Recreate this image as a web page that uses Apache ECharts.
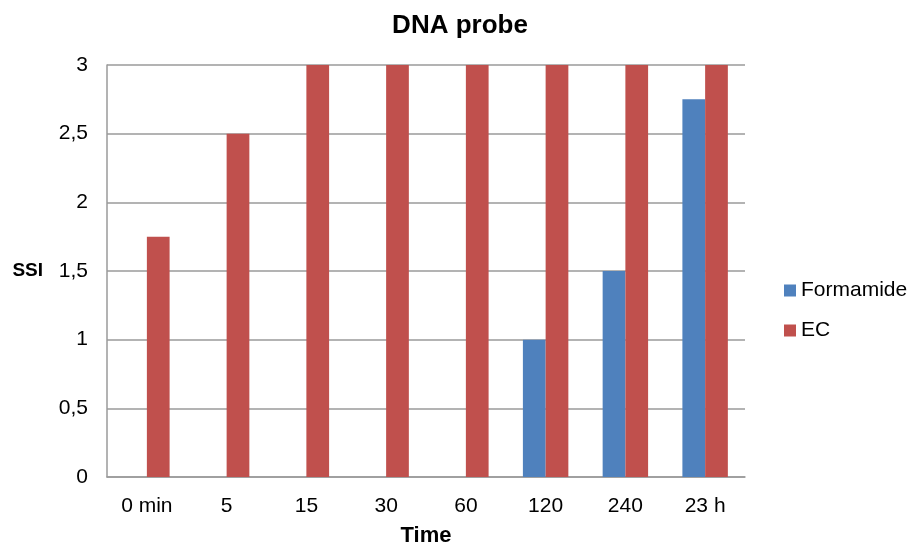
<!DOCTYPE html>
<html><head><meta charset="utf-8">
<script src="https://cdn.jsdelivr.net/npm/echarts@6/dist/echarts.min.js"></script>
<style>html,body{margin:0;padding:0;background:#fff}#c{width:914px;height:549px}</style>
</head><body><div id="c"></div>
<script>
const categories = ['0 min', '5', '15', '30', '60', '120', '240', '23 h'];
const formamide = [0, 0, 0, 0, 0, 1, 1.5, 2.75];
const ec = [1.75, 2.5, 3, 3, 3, 3, 3, 3];
const font = 'Liberation Sans, Arial, sans-serif';
const chart = echarts.init(document.getElementById('c'), null, {renderer: 'canvas'});
chart.setOption({
  animation: false,
  backgroundColor: '#fff',
  title: {text: 'DNA probe', left: 455, top: 8, textAlign: 'center',
    textStyle: {fontFamily: font, fontSize: 26, fontWeight: 'bold', color: '#000'}},
  legend: {orient: 'vertical', left: 779, top: 275, itemWidth: 12, itemHeight: 12, itemGap: 19,
    icon: 'rect', textStyle: {fontFamily: font, fontSize: 21, color: '#000'},
    data: ['Formamide', 'EC']},
  grid: {left: 107, right: 169, top: 65, bottom: 72, outerBoundsMode: 'none', containLabel: false},
  xAxis: {type: 'category', data: categories, name: 'Time', nameLocation: 'middle', nameGap: 48,
    nameTextStyle: {fontFamily: font, fontSize: 22, fontWeight: 'bold', color: '#000'},
    axisLine: {lineStyle: {color: '#9a9a9a', width: 1.5}}, axisTick: {show: false},
    axisLabel: {fontFamily: font, fontSize: 21, color: '#000', margin: 19}},
  yAxis: {type: 'value', min: 0, max: 3, interval: 0.5, name: 'SSI', nameLocation: 'middle', nameGap: 64,
    nameRotate: 0,
    nameTextStyle: {fontFamily: font, fontSize: 19, fontWeight: 'bold', color: '#000'},
    axisLine: {show: true, lineStyle: {color: '#9a9a9a', width: 1.5}}, axisTick: {show: false},
    splitLine: {lineStyle: {color: '#9a9a9a', width: 1.5}},
    axisLabel: {fontFamily: font, fontSize: 21, color: '#000', margin: 19,
      formatter: v => String(v).replace('.', ',')}},
  series: [
    {name: 'Formamide', type: 'bar', data: formamide, barWidth: '28.5%', barGap: '0%',
      itemStyle: {color: '#4F81BD'}},
    {name: 'EC', type: 'bar', data: ec, barWidth: '28.5%', barGap: '0%',
      itemStyle: {color: '#C0504D'}}
  ]
});
</script></body></html>
